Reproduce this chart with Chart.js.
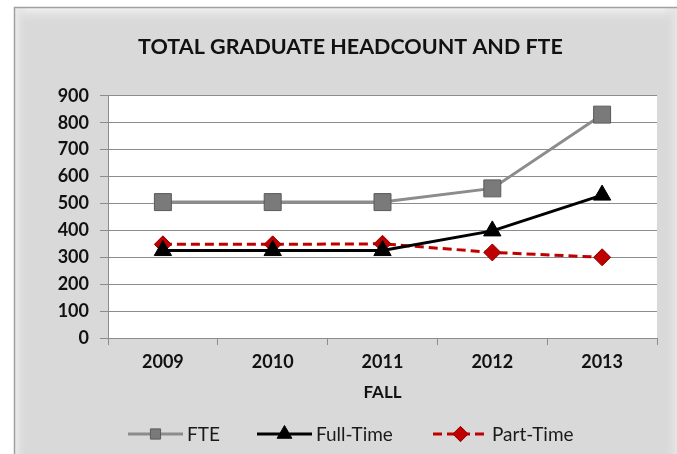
<!DOCTYPE html>
<html>
<head>
<meta charset="utf-8">
<script src="https://cdn.jsdelivr.net/npm/chart.js@4"></script>
<style>
  html, body { margin: 0; padding: 0; background: #ffffff; }
  #wrap { position: relative; width: 677px; height: 454px; }
</style>
</head>
<body>
<div id="wrap"><canvas id="c" width="677" height="454"></canvas></div>
<script>
const categories = ['2009', '2010', '2011', '2012', '2013'];
const fte = [505, 505, 505, 556, 830];
const fullTime = [325, 325, 325, 398, 531];
const partTime = [348, 348, 350, 318, 300];
const yTicks = [0, 100, 200, 300, 400, 500, 600, 700, 800, 900];
const seriesNames = ['FTE', 'Full-Time', 'Part-Time'];

const FONT = 'Lato, "Open Sans", sans-serif';

const framePlugin = {
  id: 'frame',
  beforeDraw(chart) {
    const ctx = chart.ctx;
    const W = chart.width, H = chart.height;
    ctx.save();
    ctx.fillStyle = '#ffffff';
    ctx.fillRect(0, 0, W, H);
    const x0 = 14, y0 = 7, x1 = W + 10, y1 = H + 10;
    ctx.fillStyle = '#d9d9d9';
    ctx.fillRect(x0, y0, x1 - x0, y1 - y0);
    let g = ctx.createLinearGradient(0, y0, 0, y0 + 18);
    g.addColorStop(0, '#f3f3f3');
    g.addColorStop(1, 'rgba(217,217,217,0)');
    ctx.fillStyle = g;
    ctx.fillRect(x0, y0, x1 - x0, 18);
    g = ctx.createLinearGradient(x0, 0, x0 + 14, 0);
    g.addColorStop(0, '#eeeeee');
    g.addColorStop(1, 'rgba(217,217,217,0)');
    ctx.fillStyle = g;
    ctx.fillRect(x0, y0, 14, y1 - y0);
    g = ctx.createLinearGradient(W - 14, 0, W, 0);
    g.addColorStop(0, 'rgba(217,217,217,0)');
    g.addColorStop(1, '#e6e6e6');
    ctx.fillStyle = g;
    ctx.fillRect(W - 14, y0, 14, y1 - y0);
    ctx.strokeStyle = '#a0a0a0';
    ctx.lineWidth = 1.5;
    ctx.strokeRect(x0 + 0.5, y0 + 0.5, x1 - x0, y1 - y0);
    const a = chart.chartArea;
    ctx.fillStyle = '#ffffff';
    ctx.fillRect(a.left, a.top, a.right - a.left, a.bottom - a.top);
    ctx.restore();
  }
};

const legendPlugin = {
  id: 'customLegend',
  afterDraw(chart) {
    const ctx = chart.ctx;
    const y = 434;
    const starts = [128, 257, 433];
    const scale = [0.6, 0.85, 0.9];
    ctx.save();
    chart.data.datasets.forEach((ds, i) => {
      const x = starts[i];
      const len = 55;
      ctx.beginPath();
      ctx.lineWidth = ds.borderWidth;
      ctx.strokeStyle = ds.borderColor;
      ctx.setLineDash(ds.borderDash || []);
      ctx.moveTo(x, y);
      ctx.lineTo(x + len, y);
      ctx.stroke();
      ctx.setLineDash([]);
      ctx.fillStyle = ds.pointBackgroundColor;
      ctx.strokeStyle = ds.pointBorderColor;
      ctx.lineWidth = ds.pointBorderWidth;
      Chart.helpers.drawPoint(ctx, {
        pointStyle: ds.pointStyle,
        radius: ds.pointRadius * scale[i],
        borderWidth: ds.pointBorderWidth,
        rotation: 0
      }, x + len / 2, y);
      ctx.fillStyle = '#1a1a1a';
      ctx.font = '19px ' + FONT;
      ctx.textBaseline = 'middle';
      ctx.textAlign = 'left';
      ctx.fillText(ds.label, x + len + 4, y + 1);
    });
    ctx.restore();
  }
};

new Chart(document.getElementById('c'), {
  type: 'line',
  data: {
    labels: categories,
    datasets: [
      {
        label: seriesNames[0], data: fte,
        borderColor: '#8c8c8c', borderWidth: 3,
        pointStyle: 'rect', pointRadius: 12, pointHoverRadius: 12,
        pointBackgroundColor: '#7a7a7a', pointBorderColor: '#5a5a5a', pointBorderWidth: 1,
        tension: 0
      },
      {
        label: seriesNames[1], data: fullTime,
        borderColor: '#000000', borderWidth: 3,
        pointStyle: 'triangle', pointRadius: 10, pointHoverRadius: 10,
        pointBackgroundColor: '#000000', pointBorderColor: '#000000', pointBorderWidth: 1,
        tension: 0
      },
      {
        label: seriesNames[2], data: partTime,
        borderColor: '#c00000', borderWidth: 3, borderDash: [9, 5],
        pointStyle: 'rectRot', pointRadius: 8.5, pointHoverRadius: 8.5,
        pointBackgroundColor: '#c00000', pointBorderColor: '#8b0000', pointBorderWidth: 1,
        tension: 0
      }
    ]
  },
  options: {
    responsive: false,
    animation: false,
    events: [],
    layout: { padding: { left: 44, right: 20, top: 0, bottom: 46 } },
    plugins: {
      legend: { display: false },
      tooltip: { enabled: false },
      title: {
        display: true,
        text: 'TOTAL GRADUATE HEADCOUNT AND FTE',
        color: '#111111',
        font: { family: FONT, size: 21.5, weight: 'bold' },
        padding: { top: 34, bottom: 36 }
      }
    },
    scales: {
      x: {
        offset: true,
        grid: { offset: true, drawOnChartArea: false, drawTicks: true, tickLength: 7, color: '#8c8c8c', lineWidth: 1 },
        border: { display: true, color: '#8c8c8c', width: 1 },
        ticks: { color: '#111111', font: { family: FONT, size: 18, weight: 'bold' }, padding: 6, maxRotation: 0 },
        title: { display: true, text: 'FALL', color: '#111111', font: { family: FONT, size: 17, weight: 'bold' }, padding: { top: 4, bottom: 5 } },
        afterFit(scale) { scale.height = 70; }
      },
      y: {
        min: 0, max: 900,
        afterBuildTicks(scale) { scale.ticks = yTicks.map(v => ({ value: v })); },
        grid: { color: '#8c8c8c', lineWidth: 1, drawTicks: true, tickLength: 8 },
        border: { display: true, color: '#8c8c8c', width: 1 },
        ticks: { color: '#111111', font: { family: FONT, size: 18, weight: 'bold' }, padding: 11 },
        afterFit(scale) { scale.width = 64; }
      }
    }
  },
  plugins: [framePlugin, legendPlugin]
});
</script>
</body>
</html>
